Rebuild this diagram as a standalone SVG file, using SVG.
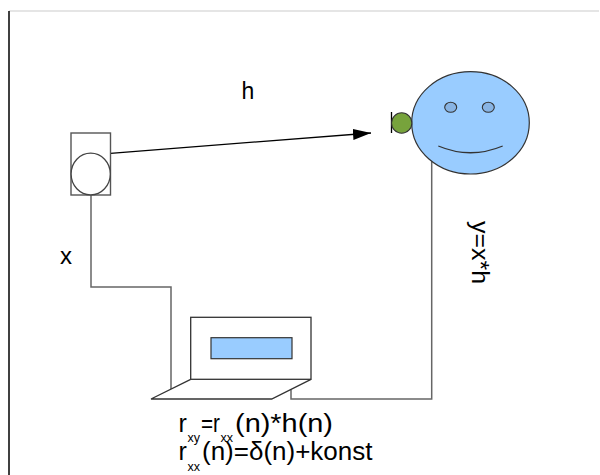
<svg xmlns="http://www.w3.org/2000/svg" width="600" height="475" viewBox="0 0 600 475">
  <style>
    .lbl { font-family: "Liberation Sans", Arial, sans-serif; fill: #000; }
    .wire { fill: none; stroke: #666; stroke-width: 1.5; }
    .edge { stroke: #333; stroke-width: 1.3; }
    .blue { fill: #99ccff; stroke: #333; stroke-width: 1.2; }
  </style>
  <defs>
    <marker id="arrow" markerWidth="18" markerHeight="11" refX="18" refY="5.5" orient="auto" markerUnits="userSpaceOnUse">
      <path d="M0,0 L18,5.5 L0,11 Z" fill="#000"/>
    </marker>
  </defs>

  <rect width="600" height="475" fill="#fff"/>
  <!-- frame -->
  <line x1="9" y1="11" x2="599" y2="11" stroke="#ddd" stroke-width="1.3"/>
  <line x1="9" y1="11" x2="9" y2="475" stroke="#000" stroke-width="1.5"/>

  <!-- connectors -->
  <g id="connectors">
    <line x1="110.5" y1="153.3" x2="371" y2="133" stroke="#000" stroke-width="1.3" marker-end="url(#arrow)"/>
    <polyline class="wire" points="91,195 91,287 171,287 171,389"/>
    <polyline class="wire" points="411.5,123 431.7,123 431.7,399 291,399 291,389.5"/>
  </g>

  <!-- loudspeaker -->
  <g id="speaker">
    <rect x="71" y="133" width="39.5" height="62" fill="#fff" stroke="#555" stroke-width="1.4"/>
    <ellipse cx="90.7" cy="174" rx="19.6" ry="20.8" fill="#fff" stroke="#444" stroke-width="1.3"/>
  </g>

  <!-- listener face -->
  <g id="face">
    <ellipse cx="470.5" cy="122.8" rx="58.8" ry="51.2" class="blue"/>
    <ellipse cx="450.7" cy="107.3" rx="6" ry="5" fill="#88b4e4" stroke="#333" stroke-width="1.1"/>
    <ellipse cx="488.3" cy="107.3" rx="6" ry="5" fill="#88b4e4" stroke="#333" stroke-width="1.1"/>
    <path d="M438.3,146 Q470.5,159.5 502.7,146" fill="none" stroke="#333" stroke-width="1.3"/>
  </g>

  <!-- microphone -->
  <g id="mic">
    <line x1="391.5" y1="112" x2="391.5" y2="133" stroke="#000" stroke-width="1.3"/>
    <circle cx="401.7" cy="123" r="10.2" fill="#77a33c" stroke="#333" stroke-width="1.1"/>
  </g>

  <!-- laptop -->
  <g id="laptop">
    <rect x="190.7" y="317.3" width="120.3" height="62" fill="#fff" class="edge"/>
    <rect x="211" y="337.7" width="81" height="21" class="blue"/>
    <polyline points="190.7,379.3 151,399 271.7,399 311,379.3" fill="none" class="edge"/>
  </g>

  <!-- labels -->
  <g id="labels">
    <text class="lbl" x="241.5" y="99" font-size="23">h</text>
    <text class="lbl" x="60" y="264" font-size="24">x</text>
    <text class="lbl" transform="translate(471.5,221) rotate(90)" font-size="23" textLength="63" lengthAdjust="spacingAndGlyphs">y=x*h</text>
    <text class="lbl" font-size="25">
      <tspan x="178.5" y="432">r</tspan><tspan x="187.5" y="442" font-size="12.5">xy</tspan><tspan x="201" y="432" textLength="19" lengthAdjust="spacingAndGlyphs">=r</tspan><tspan x="220.5" y="442" font-size="12.5">xx</tspan><tspan x="235" y="432" textLength="98" lengthAdjust="spacingAndGlyphs">(n)*h(n)</tspan>
    </text>
    <text class="lbl" font-size="25">
      <tspan x="178.5" y="460">r</tspan><tspan x="187.5" y="471" font-size="12.5">xx</tspan><tspan x="202" y="460" textLength="170.5" lengthAdjust="spacingAndGlyphs">(n)=δ(n)+konst</tspan>
    </text>
  </g>
</svg>
